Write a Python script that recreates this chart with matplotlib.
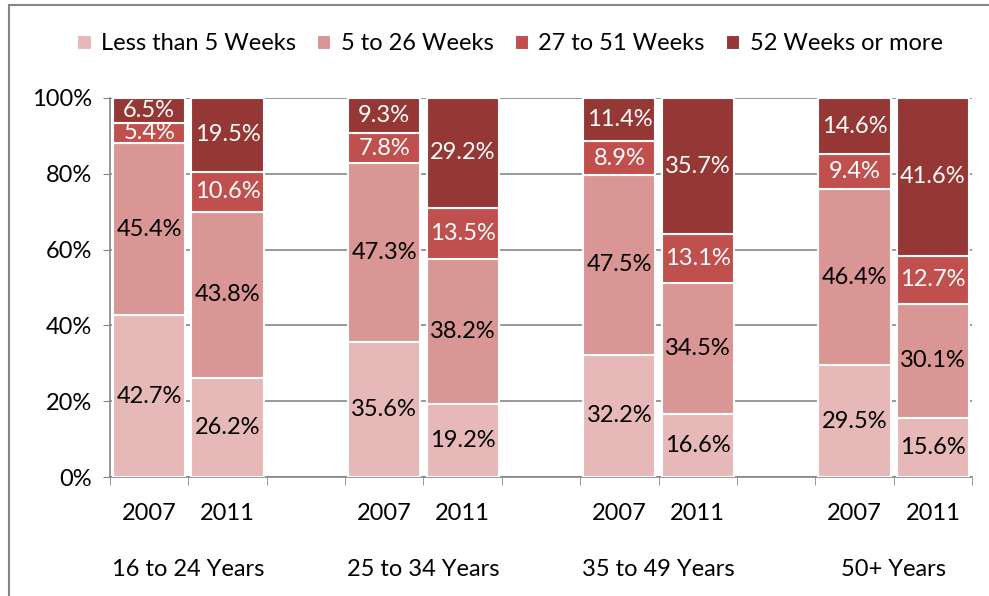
import numpy as np
import matplotlib.pyplot as plt
from matplotlib.lines import Line2D

plt.rcParams['font.family'] = ['Lato', 'DejaVu Sans']

# ---------- data ----------
groups = ["16 to 24 Years", "25 to 34 Years", "35 to 49 Years", "50+ Years"]
years = ["2007", "2011"]
series = ["Less than 5 Weeks", "5 to 26 Weeks", "27 to 51 Weeks", "52 Weeks or more"]
# one list per series, order: group1-2007, group1-2011, group2-2007, ...
less5 = [42.7, 26.2, 35.6, 19.2, 32.2, 16.6, 29.5, 15.6]
w5_26 = [45.4, 43.8, 47.3, 38.2, 47.5, 34.5, 46.4, 30.1]
w27_51 = [5.4, 10.6, 7.8, 13.5, 8.9, 13.1, 9.4, 12.7]
w52 = [6.5, 19.5, 9.3, 29.2, 11.4, 35.7, 14.6, 41.6]

colors = ["#E6B9B8", "#D99694", "#C0504D", "#953735"]
txt_colors = ["black", "black", "white", "white"]
fs = 17

# ---------- layout ----------
fig = plt.figure(figsize=(9.89, 5.96), dpi=100)
ax = fig.add_axes([110/989, 1-477/596, (972-110)/989, (477-98)/596])

# slots: 2007, 2011, gap, 2007, 2011, gap, ...
pos = []
for g in range(len(groups)):
    pos += [g*3, g*3 + 1]
pos = np.array(pos)

data = [less5, w5_26, w27_51, w52]
bottom = np.zeros(len(pos))
for vals, c, tc, name in zip(data, colors, txt_colors, series):
    vals = np.array(vals)
    ax.bar(pos, vals, bottom=bottom, width=0.92, color=c, edgecolor="white",
           linewidth=1.5, label=name, zorder=3)
    for x, v, b in zip(pos, vals, bottom):
        ax.text(x, b + v/2, f"{v:.1f}%", ha="center", va="center",
                fontsize=fs, color=tc, zorder=4)
    bottom += vals

ax.set_xlim(-0.5, 10.5)
ax.set_ylim(0, 100)
ax.set_yticks(np.arange(0, 101, 20))
ax.set_yticklabels([f"{v}%" for v in range(0, 101, 20)], fontsize=fs)
ax.yaxis.grid(True, color="#868686", linewidth=1.2, zorder=0)
ax.tick_params(axis="y", length=5, color="#868686", pad=8)

ax.set_xticks(pos)
ax.set_xticklabels(years * len(groups), fontsize=fs)
ax.set_xticks(np.arange(-0.5, 11, 1), minor=True)
ax.tick_params(axis="x", which="major", length=0, pad=19)
ax.tick_params(axis="x", which="minor", length=6, color="#868686")

for s in ["top", "right"]:
    ax.spines[s].set_visible(False)
for s in ["left", "bottom"]:
    ax.spines[s].set_color("#868686")
    ax.spines[s].set_linewidth(1.2)

# group labels
for g, name in enumerate(groups):
    ax.text(g*3 + 0.5, -0.245, name, transform=ax.get_xaxis_transform(),
            ha="center", va="center", fontsize=fs)

ax.legend(loc="center", bbox_to_anchor=(510/989, 1-44/596), bbox_transform=fig.transFigure,
          ncol=4, frameon=False, fontsize=fs, handlelength=0.6, handleheight=0.6,
          handletextpad=0.4, columnspacing=0.9)

# outer border (only top and left edges visible)
bx, by = 8.5/989, 1-5/596
fig.add_artist(Line2D([bx, 1.0], [by, by], transform=fig.transFigure,
                      color="#868686", linewidth=1.5))
fig.add_artist(Line2D([bx, bx], [0, by], transform=fig.transFigure,
                      color="#868686", linewidth=1.5))

fig.savefig("out.png", dpi=100)
